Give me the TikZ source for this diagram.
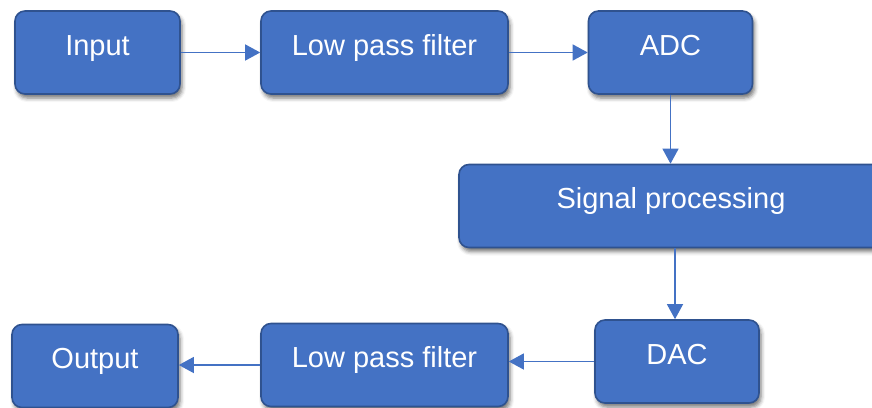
\documentclass[tikz,border=0pt]{standalone}
\usepackage{fontspec}
\setmainfont{Liberation Sans}
\usepackage{tikz}
\usetikzlibrary{arrows.meta}
\usetikzlibrary{shadows.blur}

\definecolor{boxblue}{HTML}{4472C4}
\definecolor{boxedge}{HTML}{2F528F}

\begin{document}
\begin{tikzpicture}[
    x=1pt, y=-1pt, % Work in points, y running downwards
    block/.style={
        draw=boxedge, % Dark blue border
        line width=1.6pt,
        fill=boxblue, % Office blue fill
        rounded corners=10pt,
        minimum height=83pt,
        inner sep=0pt,
        text=white,
        text height=21pt, % Lifts the text a little above the middle
        text depth=16pt,
        font=\fontsize{29}{34}\selectfont,
        blur shadow={shadow xshift=2pt, shadow yshift=-4pt, shadow blur radius=4pt, shadow opacity=55}
    },
    link/.style={
        draw=boxblue,
        line width=1.3pt,
        -{Triangle[length=15pt,width=16pt]}
    }
]
\useasboundingbox (0,0) rectangle (872,407);

% top row
\node[block, minimum width=165pt] (in) at (97.5,52.5) {Input};
\node[block, minimum width=247pt] (lpfa) at (384.5,52.5) {Low pass filter};
\node[block, minimum width=164pt] (adc) at (670.5,52.5) {ADC};

% middle
\node[block, minimum width=424pt] (sp) at (671,206) {Signal processing};

% bottom row
\node[block, minimum width=164pt] (dac) at (677,361.5) {DAC};
\node[block, minimum width=247pt] (lpfb) at (384.5,365) {Low pass filter};
\node[block, minimum width=166pt] (out) at (95,366) {Output};

\draw[link] (in) -- (lpfa);
\draw[link] (lpfa) -- (adc);
\draw[link] (adc.south) -- (adc.south |- sp.north);
\draw[link] ([xshift=4pt]sp.south) -- ([xshift=4pt]sp.south |- dac.north);
\draw[link] (dac.west) -- (dac.west -| lpfb.east);
\draw[link] (lpfb.west) -- (lpfb.west -| out.east);
\end{tikzpicture}
\end{document}
